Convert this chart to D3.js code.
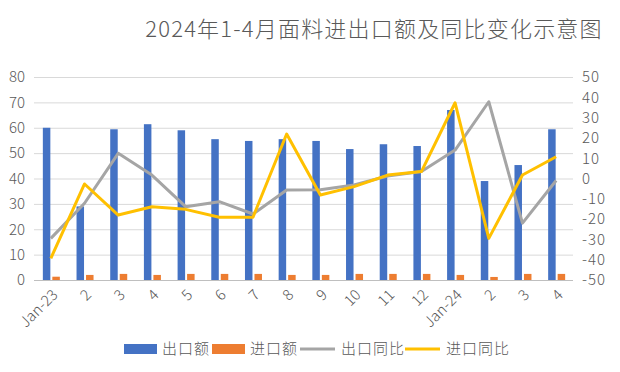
<!DOCTYPE html>
<html>
<head>
<meta charset="utf-8">
<script src="https://cdn.jsdelivr.net/npm/d3@7/dist/d3.min.js"></script>
<style>
  body { margin: 0; background: #fff; }
  text { font-family: "Noto Sans CJK SC", "Noto Sans", sans-serif; fill: #595959; font-weight: 300; }
</style>
</head>
<body>
<svg width="620" height="372"></svg>
<script>
const months = ['Jan-23', '2', '3', '4', '5', '6', '7', '8', '9', '10', '11', '12', 'Jan-24', '2', '3', '4'];
const exportValue = [60.0, 29.0, 59.4, 61.4, 59.0, 55.5, 54.8, 55.5, 54.8, 51.6, 53.5, 52.8, 67.0, 39.0, 45.3, 59.4];
const importValue = [1.3, 2.0, 2.4, 2.0, 2.4, 2.4, 2.4, 2.0, 2.0, 2.4, 2.4, 2.4, 2.0, 1.2, 2.4, 2.4];
const exportYoy = [-29.5, -12.2, 12.4, 1.7, -13.9, -11.4, -17.5, -5.7, -5.5, -3.2, 1.2, 3.4, 14.0, 37.8, -22.0, -1.0];
const importYoy = [-39.3, -2.7, -18.0, -13.9, -15.2, -19.1, -19.1, 21.9, -8.1, -4.0, 1.7, 3.4, 37.3, -29.5, 1.7, 10.7];
const leftTicks = d3.range(0, 81, 10);
const rightTicks = d3.range(-50, 51, 10);

const svg = d3.select('svg');
const plotLeft = 34, plotRight = 573, plotTop = 77, plotBottom = 280;

const x = d3.scaleBand()
  .domain(d3.range(months.length))
  .range([plotLeft, plotRight]);

const yL = d3.scaleLinear().domain([0, 80]).range([plotBottom, plotTop]);
const yR = d3.scaleLinear().domain([-50, 50]).range([plotBottom, plotTop]);

svg.append('text')
  .attr('x', 374)
  .attr('y', 37)
  .attr('text-anchor', 'middle')
  .style('font-size', '22px')
  .style('letter-spacing', '1.2px')
  .text('2024年1-4月面料进出口额及同比变化示意图');

// grid
svg.append('g')
  .selectAll('line')
  .data(leftTicks)
  .enter()
    .append('line')
    .attr('x1', plotLeft)
    .attr('x2', plotRight)
    .attr('y1', (d) => yL(d) + 0.5)
    .attr('y2', (d) => yL(d) + 0.5)
    .attr('stroke', (d) => d === 0 ? '#bfbfbf' : '#d9d9d9')
    .attr('stroke-width', 1);

const axisL = svg.append('g')
  .attr('transform', `translate(${plotLeft - 9},0)`)
  .call(d3.axisLeft(yL).tickValues(leftTicks).tickSize(0).tickPadding(0));
const axisR = svg.append('g')
  .attr('transform', `translate(${plotRight + 9},0)`)
  .call(d3.axisRight(yR).tickValues(rightTicks).tickSize(0).tickPadding(0)
    .tickFormat((d) => String(d)));
[axisL, axisR].forEach((g) => {
  g.select('.domain').remove();
  g.selectAll('text').style('font-size', '15px').attr('fill', '#595959');
});
axisR.selectAll('text').style('letter-spacing', '1px');

const barW = 7.5;
const cx = (i) => x(i) + x.bandwidth() / 2;

svg.append('g')
  .selectAll('rect')
  .data(exportValue)
  .enter()
    .append('rect')
    .attr('x', (d, i) => cx(i) - barW - 0.5)
    .attr('y', (d) => yL(d))
    .attr('width', barW)
    .attr('height', (d) => yL(0) - yL(d))
    .attr('fill', '#4472C4');

svg.append('g')
  .selectAll('rect')
  .data(importValue)
  .enter()
    .append('rect')
    .attr('x', (d, i) => cx(i) + 1.5)
    .attr('y', (d) => yL(d))
    .attr('width', barW)
    .attr('height', (d) => yL(0) - yL(d))
    .attr('fill', '#ED7D31');

const line = d3.line()
  .x((d, i) => cx(i))
  .y((d) => yR(d));

svg.append('path')
  .datum(exportYoy)
  .attr('d', line)
  .attr('fill', 'none')
  .attr('stroke', '#A5A5A5')
  .attr('stroke-width', 3)
  .attr('stroke-linejoin', 'round');

svg.append('path')
  .datum(importYoy)
  .attr('d', line)
  .attr('fill', 'none')
  .attr('stroke', '#FFC000')
  .attr('stroke-width', 3)
  .attr('stroke-linejoin', 'round');

// x labels
svg.append('g')
  .selectAll('text')
  .data(months)
  .enter()
    .append('text')
    .attr('transform', (d, i) => `translate(${cx(i) + 4},${plotBottom + 12}) rotate(-45)`)
    .attr('text-anchor', 'end')
    .attr('dy', '0.35em')
    .style('font-size', '15px')
    .text((d) => d);

// legend
const legend = [
  { name: '出口额', color: '#4472C4', type: 'rect', x: 124 },
  { name: '进口额', color: '#ED7D31', type: 'rect', x: 212 },
  { name: '出口同比', color: '#A5A5A5', type: 'line', x: 300 },
  { name: '进口同比', color: '#FFC000', type: 'line', x: 405 }
];
const lg = svg.append('g').selectAll('g')
  .data(legend)
  .enter()
    .append('g')
    .attr('transform', (d) => `translate(${d.x},349)`);
lg.filter((d) => d.type === 'rect')
  .append('rect')
  .attr('x', 0).attr('y', -5).attr('width', 33).attr('height', 10)
  .attr('fill', (d) => d.color);
lg.filter((d) => d.type === 'line')
  .append('line')
  .attr('x1', 0).attr('x2', 35).attr('y1', 0).attr('y2', 0)
  .attr('stroke', (d) => d.color).attr('stroke-width', 3);
lg.append('text')
  .attr('x', (d) => d.type === 'rect' ? 38 : 41)
  .attr('dy', '0.35em')
  .style('font-size', '15px')
  .style('letter-spacing', '1px')
  .text((d) => d.name);
</script>
</body>
</html>
